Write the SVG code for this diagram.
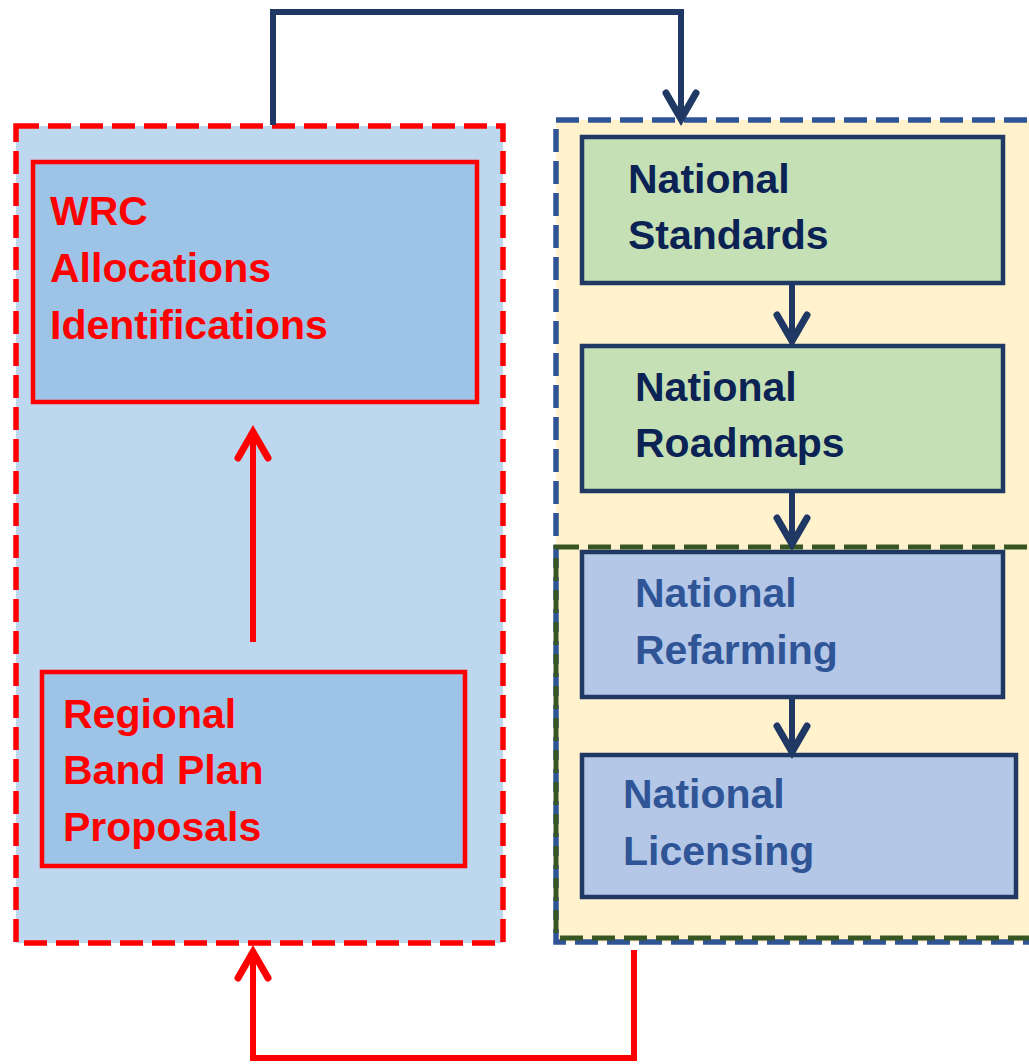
<svg xmlns="http://www.w3.org/2000/svg" width="1029" height="1064" viewBox="0 0 1029 1064">
<style>
.t{font-family:"Liberation Sans",Arial,sans-serif;font-weight:bold;font-size:41px}
.red{fill:#FF0000}
.navy{fill:#0B2254}
.blue{fill:#2F5597}
.box-r{fill:#9DC3E6;stroke:#FF0000;stroke-width:4.5}
.box-g{fill:#C5E0B4;stroke:#203864;stroke-width:4.5}
.box-b{fill:#B4C7E7;stroke:#203864;stroke-width:4.5}
.cn{fill:none;stroke:#203864;stroke-width:6}
.cr{fill:none;stroke:#FF0000;stroke-width:6}
</style>
<defs>
<marker id="ah-n" markerUnits="userSpaceOnUse" viewBox="-34 -24 40 48" markerWidth="40" markerHeight="48" refX="0" refY="0" orient="auto">
<polyline points="-27,-15 -1,0 -27,15" fill="none" stroke="#203864" stroke-width="7" stroke-linecap="round" stroke-linejoin="miter"/>
</marker>
<marker id="ah-r" markerUnits="userSpaceOnUse" viewBox="-34 -24 40 48" markerWidth="40" markerHeight="48" refX="0" refY="0" orient="auto">
<polyline points="-27,-15 -1,0 -27,15" fill="none" stroke="#FF0000" stroke-width="7" stroke-linecap="round" stroke-linejoin="miter"/>
</marker>
</defs>

<g id="left-container">
<rect x="16" y="126" width="487" height="817" fill="#BDD7EE" stroke="#FF0000" stroke-width="5.5" stroke-dasharray="23 9"/>
</g>
<g id="right-container">
<rect x="556" y="120" width="490" height="822" fill="#FFF2CC" stroke="#2F5597" stroke-width="5.5" stroke-dasharray="23 9"/>
<rect x="556" y="547" width="490" height="391" fill="none" stroke="#375623" stroke-width="5" stroke-dasharray="23 9"/>
</g>

<g id="wrc">
<rect class="box-r" x="33" y="162" width="444" height="240"/>
<text class="t red" x="50" y="225">WRC</text>
<text class="t red" x="50" y="282">Allocations</text>
<text class="t red" x="50" y="339">Identifications</text>
</g>
<g id="regional">
<rect class="box-r" x="42" y="672" width="423" height="194"/>
<text class="t red" x="63" y="728">Regional</text>
<text class="t red" x="63" y="784">Band Plan</text>
<text class="t red" x="63" y="841">Proposals</text>
</g>
<g id="standards">
<rect class="box-g" x="582" y="137" width="421" height="146"/>
<text class="t navy" x="628" y="193">National</text>
<text class="t navy" x="628" y="249">Standards</text>
</g>
<g id="roadmaps">
<rect class="box-g" x="582" y="346" width="421" height="145"/>
<text class="t navy" x="635" y="401">National</text>
<text class="t navy" x="635" y="457">Roadmaps</text>
</g>
<g id="refarming">
<rect class="box-b" x="582" y="552" width="421" height="145"/>
<text class="t blue" x="635" y="607">National</text>
<text class="t blue" x="635" y="664">Refarming</text>
</g>
<g id="licensing">
<rect class="box-b" x="582" y="755" width="434" height="142"/>
<text class="t blue" x="623" y="808">National</text>
<text class="t blue" x="623" y="865">Licensing</text>
</g>

<g id="connectors">
<polyline class="cn" points="273,125 273,12 681,12 681,120" marker-end="url(#ah-n)"/>
<line class="cn" x1="792" y1="285" x2="792" y2="342" marker-end="url(#ah-n)"/>
<line class="cn" x1="792" y1="493" x2="792" y2="545" marker-end="url(#ah-n)"/>
<line class="cn" x1="792" y1="699" x2="792" y2="753" marker-end="url(#ah-n)"/>
<line class="cr" x1="253" y1="642" x2="253" y2="431" marker-end="url(#ah-r)"/>
<polyline class="cr" points="634,950 634,1058 253,1058 253,951" marker-end="url(#ah-r)"/>
</g>
</svg>
